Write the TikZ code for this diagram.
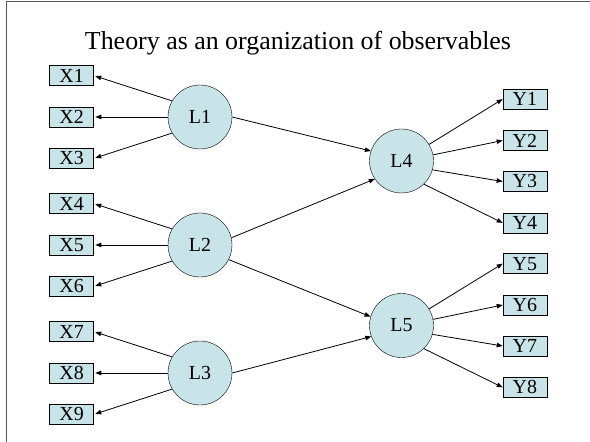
\documentclass[tikz,border=0pt]{standalone}
\usepackage{fontspec}
\setmainfont{Liberation Serif}
\usetikzlibrary{arrows.meta, positioning}
\definecolor{nodefill}{RGB}{200,228,232}
\definecolor{framegray}{RGB}{90,90,90}

\begin{document}
\begin{tikzpicture}[
  x=1bp, y=-1bp,
  node distance=21bp,
  latent/.style={draw, circle, fill=nodefill, minimum size=64bp, inner sep=0pt, font=\fontsize{20}{22}\selectfont},
  obs/.style={draw, fill=nodefill, minimum width=44bp, minimum height=20bp, inner sep=0pt, font=\fontsize{20}{22}\selectfont},
  arrow/.style={-{Triangle[length=6bp, width=4.5bp]}, line width=0.8bp}
]
\useasboundingbox (0,0) rectangle (590,442);
\draw[framegray, line width=1.5bp] (6.5,442) -- (6.5,1.5) -- (590,1.5);

\node[anchor=base, font=\fontsize{26}{30}\selectfont] (title) at (298,49.5) {Theory as an organization of observables};

\node[latent] (L1) at (200,117) {L1};
\node[latent] (L2) at (200,245) {L2};
\node[latent] (L3) at (200,373) {L3};
\node[latent] (L4) at (401.5,161) {L4};
\node[latent] (L5) at (401.5,325.5) {L5};

\node[obs, left=74bp of L1] (X2) {X2};
\node[obs, above=of X2] (X1) {X1};
\node[obs, below=of X2] (X3) {X3};
\node[obs, left=74bp of L2] (X5) {X5};
\node[obs, above=of X5] (X4) {X4};
\node[obs, below=of X5] (X6) {X6};
\node[obs, left=74bp of L3] (X8) {X8};
\node[obs, above=of X8] (X7) {X7};
\node[obs, below=of X8] (X9) {X9};

\node[obs, right=69bp of L4, yshift=20.5bp] (Y2) {Y2};
\node[obs, right=69bp of L4, yshift=-20.5bp] (Y3) {Y3};
\node[obs, above=of Y2] (Y1) {Y1};
\node[obs, below=of Y3] (Y4) {Y4};
\node[obs, right=69bp of L5, yshift=20.5bp] (Y6) {Y6};
\node[obs, right=69bp of L5, yshift=-20.5bp] (Y7) {Y7};
\node[obs, above=of Y6] (Y5) {Y5};
\node[obs, below=of Y7] (Y8) {Y8};

\draw[arrow, shorten >=1.5bp] (L1.150) -- (X1.east);
\draw[arrow, shorten >=1.5bp] (L1.west) -- (X2.east);
\draw[arrow, shorten >=1.5bp] (L1.210) -- (X3.east);
\draw[arrow, shorten >=1.5bp] (L2.150) -- (X4.east);
\draw[arrow, shorten >=1.5bp] (L2.west) -- (X5.east);
\draw[arrow, shorten >=1.5bp] (L2.210) -- (X6.east);
\draw[arrow, shorten >=1.5bp] (L3.150) -- (X7.east);
\draw[arrow, shorten >=1.5bp] (L3.west) -- (X8.east);
\draw[arrow, shorten >=1.5bp] (L3.210) -- (X9.east);

\draw[arrow] (L1.east) -- (L4.162);
\draw[arrow] (L2.13) -- (L4.214);
\draw[arrow] (L2.333) -- (L5.164);
\draw[arrow] (L3.east) -- (L5.200);

\draw[arrow] (L4.31) -- (Y1.west);
\draw[arrow] (L4.11) -- (Y2.west);
\draw[arrow] (L4.344) -- (Y3.west);
\draw[arrow] (L4.314) -- (Y4.west);
\draw[arrow] (L5.31) -- (Y5.west);
\draw[arrow] (L5.11) -- (Y6.west);
\draw[arrow] (L5.344) -- (Y7.west);
\draw[arrow] (L5.314) -- (Y8.west);
\end{tikzpicture}
\end{document}
